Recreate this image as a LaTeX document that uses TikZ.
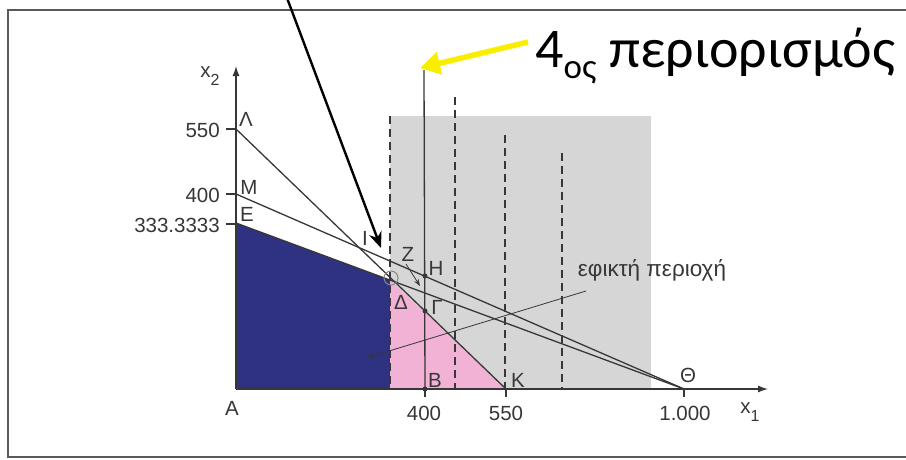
\documentclass[tikz,border=0pt]{standalone}
\usepackage{fontspec}
\setmainfont{Liberation Sans}
\newfontfamily\titlefont{Carlito}
\usetikzlibrary{arrows.meta}
\definecolor{lineg}{RGB}{55,55,55}
\definecolor{navyreg}{RGB}{46,50,128}
\definecolor{pinkreg}{RGB}{242,178,214}
\definecolor{shadereg}{RGB}{214,214,214}
\definecolor{yell}{RGB}{250,238,0}
\newcommand\mysub[1]{\raisebox{-0.35em}{\fontsize{16}{16}\selectfont #1}}
\begin{document}
\begin{tikzpicture}[x=1pt,y=-1pt,
  cline/.style={draw=lineg,line width=1.3pt},
  dline/.style={draw=lineg,line width=1.2pt,dash pattern=on 8pt off 5pt},
  lab/.style={font=\fontsize{20.5}{22}\selectfont,text=lineg,inner sep=0pt},
  dotpt/.style={circle,fill=lineg,inner sep=0pt,minimum size=5pt}]
\useasboundingbox (0,0) rectangle (906,459);
\fill[white] (0,0) rectangle (906,459);
\draw[gray!70!black,line width=1.2pt] (8,10) rectangle (912,457);
% regions
\fill[shadereg] (390,116) rectangle (651,389);
\coordinate (A) at (236,389);
\coordinate (E) at (236,223);
\coordinate (M) at (236,194);
\coordinate (L) at (236,129);
\coordinate (D) at (390,280);
\coordinate (Dbot) at (390,389);
\coordinate (K) at (506,389);
\coordinate (Th) at (684,389);
\coordinate (B) at (425,389);
\coordinate (H) at (425,276);
\coordinate (G) at (425,311);
\fill[navyreg] (A) -- (E) -- (D) -- (Dbot) -- cycle;
\fill[pinkreg] (D) -- (K) -- (Dbot) -- cycle;
% dashed verticals
\coordinate (d1t) at (390,116); \coordinate (d1b) at (390,389);
\coordinate (d2t) at (455,97);  \coordinate (d2b) at (455,389);
\coordinate (d3t) at (505,135); \coordinate (d3b) at (505,389);
\coordinate (d4t) at (562,153); \coordinate (d4b) at (562,389);
\draw[dline] (d1t) -- (d1b);
\draw[dline] (d2t) -- (d2b);
\draw[dline] (d3t) -- (d3b);
\draw[dline] (d4t) -- (d4b);
% 4th constraint
\coordinate (c4t) at (424,70);
\draw[cline] (c4t) -- (B);
% constraint lines
\draw[cline] (L) -- (K);
\draw[cline] (M) -- (Th);
\draw[cline] (E) -- (Th);
% axes
\coordinate (xend) at (768,389);
\coordinate (yend) at (236,66);
\draw[cline,-{Latex[length=10pt,width=7pt]}] (A) -- (xend);
\draw[cline,-{Latex[length=10pt,width=7pt]}] (A) -- (yend);
% ticks
\foreach \yy in {129,194,224} \draw[cline] (226,\yy) -- (236,\yy);
\foreach \xx in {425,506,684} \draw[cline] (\xx,389) -- (\xx,397);
% points
\node[dotpt] (Bd) at (B) {};
\node[dotpt] (Hd) at (H) {};
\node[dotpt] (Gd) at (G) {};
\node[circle,draw=lineg!60,line width=1pt,minimum size=14pt,inner sep=0pt] (Dc) at (391,278) {};
% labels
\node[lab] (x2) at (210,76) {x\mysub{2}};
\node[lab] (x1) at (750,412) {x\mysub{1}};
\node[lab,anchor=east] (n550) at (220,130) {550};
\node[lab,anchor=east] (n400) at (220,195) {400};
\node[lab,anchor=east] (n333) at (220,225) {333.3333};
\node[lab] (tL) at (246,119) {Λ};
\node[lab] (tM) at (249,187) {Μ};
\node[lab] (tE) at (247,214) {Ε};
\node[lab] (tA) at (232,408) {Α};
\node[lab] (tB) at (435,380) {Β};
\node[lab] (tK) at (518,380) {Κ};
\node[lab] (tTh) at (688,375) {Θ};
\node[lab] (m400) at (424,413) {400};
\node[lab] (m550) at (506,413) {550};
\node[lab] (m1000) at (685,413) {1.000};
\node[lab] (tI) at (365,238) {Ι};
\node[lab] (tZ) at (408,254) {Ζ};
\node[lab] (tH) at (436,268) {Η};
\node[lab] (tG) at (437,307) {Γ};
\node[lab] (tD) at (401,302) {Δ};
\node[lab,font=\fontsize{22.5}{24}\selectfont] (feas) at (652,270) {εφικτή περιοχή};
% feasible arrow
\coordinate (fs) at (586,291);
\coordinate (fe) at (366,358);
\draw[draw=lineg,line width=0.8pt,-{Stealth[length=9pt,width=5pt]}] (fs) -- (fe);
% Z arrow
\coordinate (zs) at (406,264);
\coordinate (ze) at (420,286);
\draw[draw=lineg,line width=0.8pt,-{Stealth[length=7pt,width=5pt]}] (zs) -- (ze);
% black arrow
\coordinate (bs) at (287,-2);
\coordinate (be) at (381,248);
\draw[black,line width=2.4pt,-{Stealth[length=16pt,width=13pt]}] (bs) -- (be);
% yellow arrow and title
\node[anchor=base west,inner sep=0pt,font=\titlefont\fontsize{56}{60}\selectfont] (title) at (535,67) {4\raisebox{-11pt}{\fontsize{35}{35}\selectfont ος} περιορισμός};
\coordinate (ys) at (528,42);
\coordinate (ye) at (420,68);
\draw[yell,line width=5.5pt,-{Triangle[length=20pt,width=22pt]}] (ys) -- (ye);
\end{tikzpicture}
\end{document}
